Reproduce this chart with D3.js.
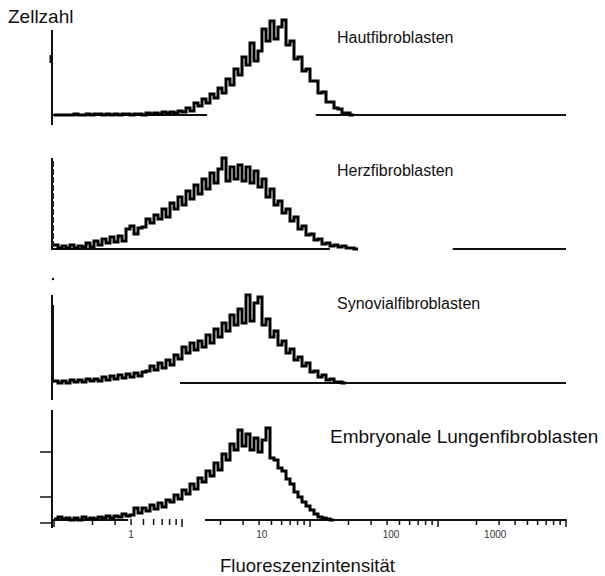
<!DOCTYPE html>
<html>
<head>
<meta charset="utf-8">
<script src="https://cdn.jsdelivr.net/npm/d3@7"></script>
<style>
  body { margin: 0; background: #fff; }
  text { font-family: "Liberation Sans", Arial, sans-serif; fill: #111; }
</style>
</head>
<body>
<script>
// Beschriftungen der vier Histogramme
const panelNames = ["Hautfibroblasten", "Herzfibroblasten", "Synovialfibroblasten", "Embryonale Lungenfibroblasten"];

// Zellzahl je Kanal (log-Kanäle ab 1, 1/32 Dekade je Kanal)
const haut = [0, 0, 0, 0, 0, 1, 0, 0, 1, 0, 1, 1, 0, 1, 0, 1, 0, 1, 1, 0,
  1, 1, 0, 2, 1, 2, 1, 3, 2, 3, 2, 4, 3,
  7, 4, 12, 9, 16, 12, 21, 17, 27, 22, 36, 30, 46, 40, 58, 50, 72, 54,
  64, 86, 74, 94, 76, 88, 95, 70, 74, 56, 58, 44, 46, 34, 34, 22, 23, 13,
  13, 7, 6, 2, 2, 0];
const herz = [4, 1, 3, 1, 4, 1, 3, 2, 6, 2, 8, 4, 10, 6, 12, 7, 13, 8, 20, 23,
  15, 21, 22, 30, 26, 34, 30, 40, 32, 46, 40, 52, 44, 58, 50, 64, 55, 70, 60, 76,
  66, 80, 91, 68, 82, 70, 84, 68, 82, 66, 78, 62, 70, 52, 60, 44, 48, 36, 40, 28,
  32, 20, 23, 14, 15, 9, 10, 5, 6, 3, 4, 2, 3, 1, 1, 0];
const synovial = [2, 0, 2, 0, 3, 1, 3, 1, 4, 2, 4, 2, 6, 3, 7, 4, 8, 5, 9, 6,
  10, 7, 11, 12, 17, 13, 20, 15, 23, 18, 28, 24, 36, 30, 40, 33, 42, 36, 48, 40,
  54, 46, 60, 52, 68, 58, 74, 60, 88, 62, 80, 86, 58, 64, 46, 52, 38, 42, 30, 34,
  23, 26, 17, 20, 11, 12, 6, 8, 3, 4, 1, 1, 0];
const lunge = [1, 3, 1, 2, 0, 2, 0, 3, 1, 2, 1, 3, 2, 4, 2, 4, 3, 6, 4, 5,
  12, 7, 12, 9, 15, 11, 17, 13, 20, 18, 25, 21, 30, 26, 36, 31, 42, 38, 49, 44,
  57, 50, 66, 60, 76, 70, 90, 74, 86, 70, 82, 68, 80, 92, 62, 60, 52, 49, 41, 36,
  28, 23, 18, 14, 10, 6, 3, 2, 1, 0];
const series = [haut, herz, synovial, lunge];

// Grundlinien-Abschnitte (Fluoreszenzwerte), Lücken wie im Scan
const baseSegments = [
  [[1, 15.7], [115, 10000]],
  [[1, 143], [1350, 10000]],
  [[10, 10000]],
  [[1, 3.8], [15.7, 10000]]
];

// Achsenbeschriftung unten
const tickLabels = ["1", "10", "100", "1000"];
const tickLabelAt = [4, 42, 430, 2800];
const yTicksLast = [-3, 23, 68];

const W = 605, H = 576;
const bases = [115, 249, 383, 520];
const axisTop = [85, 91, 88, 110];
const axisBottom = [-10, -1, -17, -8];
const labelPos = [[337, 43, 16], [337, 176, 16], [337, 309, 16], [330, 443, 19]];
const binLog = 0.03125;

const svg = d3.select("body")
  .append("svg")
  .attr("width", W)
  .attr("height", H);

const x = d3.scaleLog().domain([1, 10000]).range([54, 566]);

const line = d3.line()
  .x(function (d) { return x(d[0]); })
  .y(function (d) { return d[1]; })
  .curve(d3.curveStepAfter);

series.forEach(function (vals, k) {
  const y = d3.scaleLinear().domain([0, 100]).range([bases[k], bases[k] - 100]);
  const g = svg.append("g");

  // senkrechte Achse
  g.append("line")
    .attr("x1", x(1) - 2).attr("x2", x(1) - 2)
    .attr("y1", y(axisTop[k])).attr("y2", y(axisBottom[k]))
    .attr("stroke", "#111").attr("stroke-width", 2);

  // Grundlinie
  g.selectAll("line.base")
    .data(baseSegments[k])
    .enter()
    .append("line")
    .attr("class", "base")
    .attr("x1", function (d) { return x(d[0]) - 2; })
    .attr("x2", function (d) { return x(d[1]); })
    .attr("y1", y(0)).attr("y2", y(0))
    .attr("stroke", "#111").attr("stroke-width", 2);

  // Histogramm
  const pts = vals.map(function (v, i) { return [Math.pow(10, i * binLog), y(v)]; });
  pts.push([Math.pow(10, vals.length * binLog), y(vals[vals.length - 1])]);
  g.append("path")
    .attr("d", line(pts))
    .attr("fill", "none")
    .attr("stroke", "#000")
    .attr("stroke-width", 3)
    .attr("stroke-linejoin", "miter");

  g.append("text")
    .attr("x", labelPos[k][0])
    .attr("y", labelPos[k][1])
    .attr("font-size", labelPos[k][2] + "px")
    .text(panelNames[k]);

  if (k === 0) {
    g.append("line")
      .attr("x1", x(1) - 3).attr("x2", x(1) - 3)
      .attr("y1", y(60)).attr("y2", y(52))
      .attr("stroke", "#111").attr("stroke-width", 3);
  }
  if (k === 1) {
    g.append("line")
      .attr("x1", x(1) - 1).attr("x2", x(1) - 1)
      .attr("y1", y(88)).attr("y2", y(0))
      .attr("stroke", "#222").attr("stroke-width", 2)
      .attr("stroke-dasharray", "6,2");
  }
  if (k === 2) {
    g.append("line")
      .attr("x1", x(1) - 1).attr("x2", x(1) - 1)
      .attr("y1", y(78)).attr("y2", y(0))
      .attr("stroke", "#111").attr("stroke-width", 2);
    g.append("circle")
      .attr("cx", x(1) - 1).attr("cy", y(104)).attr("r", 1.2)
      .attr("fill", "#111");
  }
  if (k === 3) {
    // Skala unten
    const ticks = x.ticks();
    g.selectAll("line.tick")
      .data(ticks)
      .enter()
      .append("line")
      .attr("class", "tick")
      .attr("x1", function (d) { return x(d); })
      .attr("x2", function (d) { return x(d); })
      .attr("y1", y(0) - 1)
      .attr("y2", function (d) { return Math.abs(Math.log10(d) % 1) < 1e-9 ? y(0) + 7 : y(0) + 5; })
      .attr("stroke", "#111").attr("stroke-width", 1.5);

    g.selectAll("text.tl")
      .data(tickLabels)
      .enter()
      .append("text")
      .attr("class", "tl")
      .attr("x", function (d, i) { return x(tickLabelAt[i]); })
      .attr("y", y(0) + 18)
      .attr("text-anchor", "middle")
      .attr("font-size", "10px")
      .style("fill", "#333")
      .text(function (d) { return d; });

    g.selectAll("line.yt")
      .data(yTicksLast)
      .enter()
      .append("line")
      .attr("class", "yt")
      .attr("x1", x(1) - 14).attr("x2", x(1) - 2)
      .attr("y1", function (d) { return y(d); })
      .attr("y2", function (d) { return y(d); })
      .attr("stroke", "#111").attr("stroke-width", 1.5);
  }
});

svg.append("text")
  .attr("x", 8).attr("y", 23)
  .attr("font-size", "19px")
  .text("Zellzahl");

svg.append("text")
  .attr("x", 220).attr("y", 572)
  .attr("font-size", "18.5px")
  .text("Fluoreszenzintensität");
</script>
</body>
</html>
